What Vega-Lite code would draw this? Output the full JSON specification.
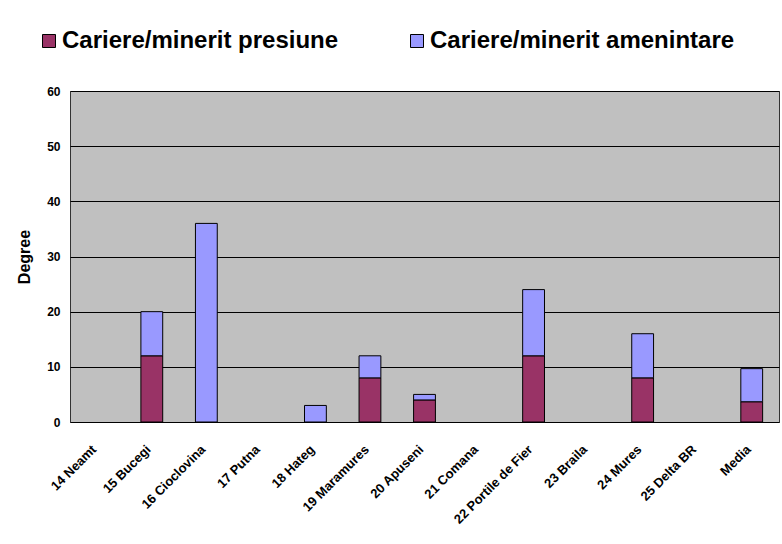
{
  "$schema": "https://vega.github.io/schema/vega-lite/v6.json",
  "autosize": {"type": "none"},
  "width": 709,
  "height": 331,
  "padding": {"left": 70, "top": 91, "right": 3, "bottom": 122},
  "background": "white",
  "config": {
    "font": "Liberation Sans",
    "view": {"fill": "#C0C0C0", "stroke": "#333333", "strokeWidth": 1}
  },
  "data": {
    "values": [
      {"region": "14 Neamt", "series": "Cariere/minerit presiune", "value": 0},
      {"region": "14 Neamt", "series": "Cariere/minerit amenintare", "value": 0},
      {"region": "15 Bucegi", "series": "Cariere/minerit presiune", "value": 12},
      {"region": "15 Bucegi", "series": "Cariere/minerit amenintare", "value": 8},
      {"region": "16 Cioclovina", "series": "Cariere/minerit presiune", "value": 0},
      {"region": "16 Cioclovina", "series": "Cariere/minerit amenintare", "value": 36},
      {"region": "17 Putna", "series": "Cariere/minerit presiune", "value": 0},
      {"region": "17 Putna", "series": "Cariere/minerit amenintare", "value": 0},
      {"region": "18 Hateg", "series": "Cariere/minerit presiune", "value": 0},
      {"region": "18 Hateg", "series": "Cariere/minerit amenintare", "value": 3},
      {"region": "19 Maramures", "series": "Cariere/minerit presiune", "value": 8},
      {"region": "19 Maramures", "series": "Cariere/minerit amenintare", "value": 4},
      {"region": "20 Apuseni", "series": "Cariere/minerit presiune", "value": 4},
      {"region": "20 Apuseni", "series": "Cariere/minerit amenintare", "value": 1},
      {"region": "21 Comana", "series": "Cariere/minerit presiune", "value": 0},
      {"region": "21 Comana", "series": "Cariere/minerit amenintare", "value": 0},
      {"region": "22 Portile de Fier", "series": "Cariere/minerit presiune", "value": 12},
      {"region": "22 Portile de Fier", "series": "Cariere/minerit amenintare", "value": 12},
      {"region": "23 Braila", "series": "Cariere/minerit presiune", "value": 0},
      {"region": "23 Braila", "series": "Cariere/minerit amenintare", "value": 0},
      {"region": "24 Mures", "series": "Cariere/minerit presiune", "value": 8},
      {"region": "24 Mures", "series": "Cariere/minerit amenintare", "value": 8},
      {"region": "25 Delta BR", "series": "Cariere/minerit presiune", "value": 0},
      {"region": "25 Delta BR", "series": "Cariere/minerit amenintare", "value": 0},
      {"region": "Media", "series": "Cariere/minerit presiune", "value": 3.67},
      {"region": "Media", "series": "Cariere/minerit amenintare", "value": 6}
    ]
  },
  "transform": [{"filter": "datum.value > 0"}],
  "mark": {"type": "bar", "stroke": "black", "strokeWidth": 1},
  "encoding": {
    "x": {
      "field": "region",
      "type": "nominal",
      "sort": null,
      "scale": {
        "domain": ["14 Neamt", "15 Bucegi", "16 Cioclovina", "17 Putna", "18 Hateg", "19 Maramures", "20 Apuseni", "21 Comana", "22 Portile de Fier", "23 Braila", "24 Mures", "25 Delta BR", "Media"],
        "paddingInner": 0.6,
        "paddingOuter": 0.3
      },
      "axis": {
        "title": null,
        "labelAngle": -45,
        "labelAlign": "right",
        "labelBaseline": "middle",
        "labelFontSize": 13,
        "labelFontWeight": "bold",
        "labelColor": "black",
        "labelPadding": 25,
        "labelOffset": -3,
        "ticks": false,
        "domain": false,
        "labelLimit": 200
      }
    },
    "y": {
      "field": "value",
      "type": "quantitative",
      "stack": "zero",
      "scale": {"domain": [0, 60], "nice": false},
      "axis": {
        "title": "Degree",
        "titleFontSize": 16,
        "titleFontWeight": "bold",
        "titleColor": "black",
        "titlePadding": 14,
        "values": [0, 10, 20, 30, 40, 50, 60],
        "labelFontSize": 12,
        "labelFontWeight": "bold",
        "labelColor": "black",
        "labelPadding": 10,
        "ticks": false,
        "domain": false,
        "grid": true,
        "gridColor": "black",
        "gridWidth": 1,
        "gridOpacity": 1
      }
    },
    "color": {
      "field": "series",
      "type": "nominal",
      "scale": {
        "domain": ["Cariere/minerit presiune", "Cariere/minerit amenintare"],
        "range": ["#993366", "#9999FF"]
      },
      "legend": {
        "title": null,
        "orient": "none",
        "legendX": -33,
        "legendY": -62,
        "direction": "horizontal",
        "columns": 2,
        "columnPadding": 66,
        "padding": 0,
        "symbolType": "square",
        "symbolSize": 169,
        "symbolStrokeColor": "black",
        "symbolStrokeWidth": 1,
        "symbolOpacity": 1,
        "labelFontSize": 24,
        "labelFontWeight": "bold",
        "labelColor": "black",
        "labelOffset": 1,
        "labelLimit": 400
      }
    },
    "order": {"field": "series", "sort": "descending"}
  }
}
